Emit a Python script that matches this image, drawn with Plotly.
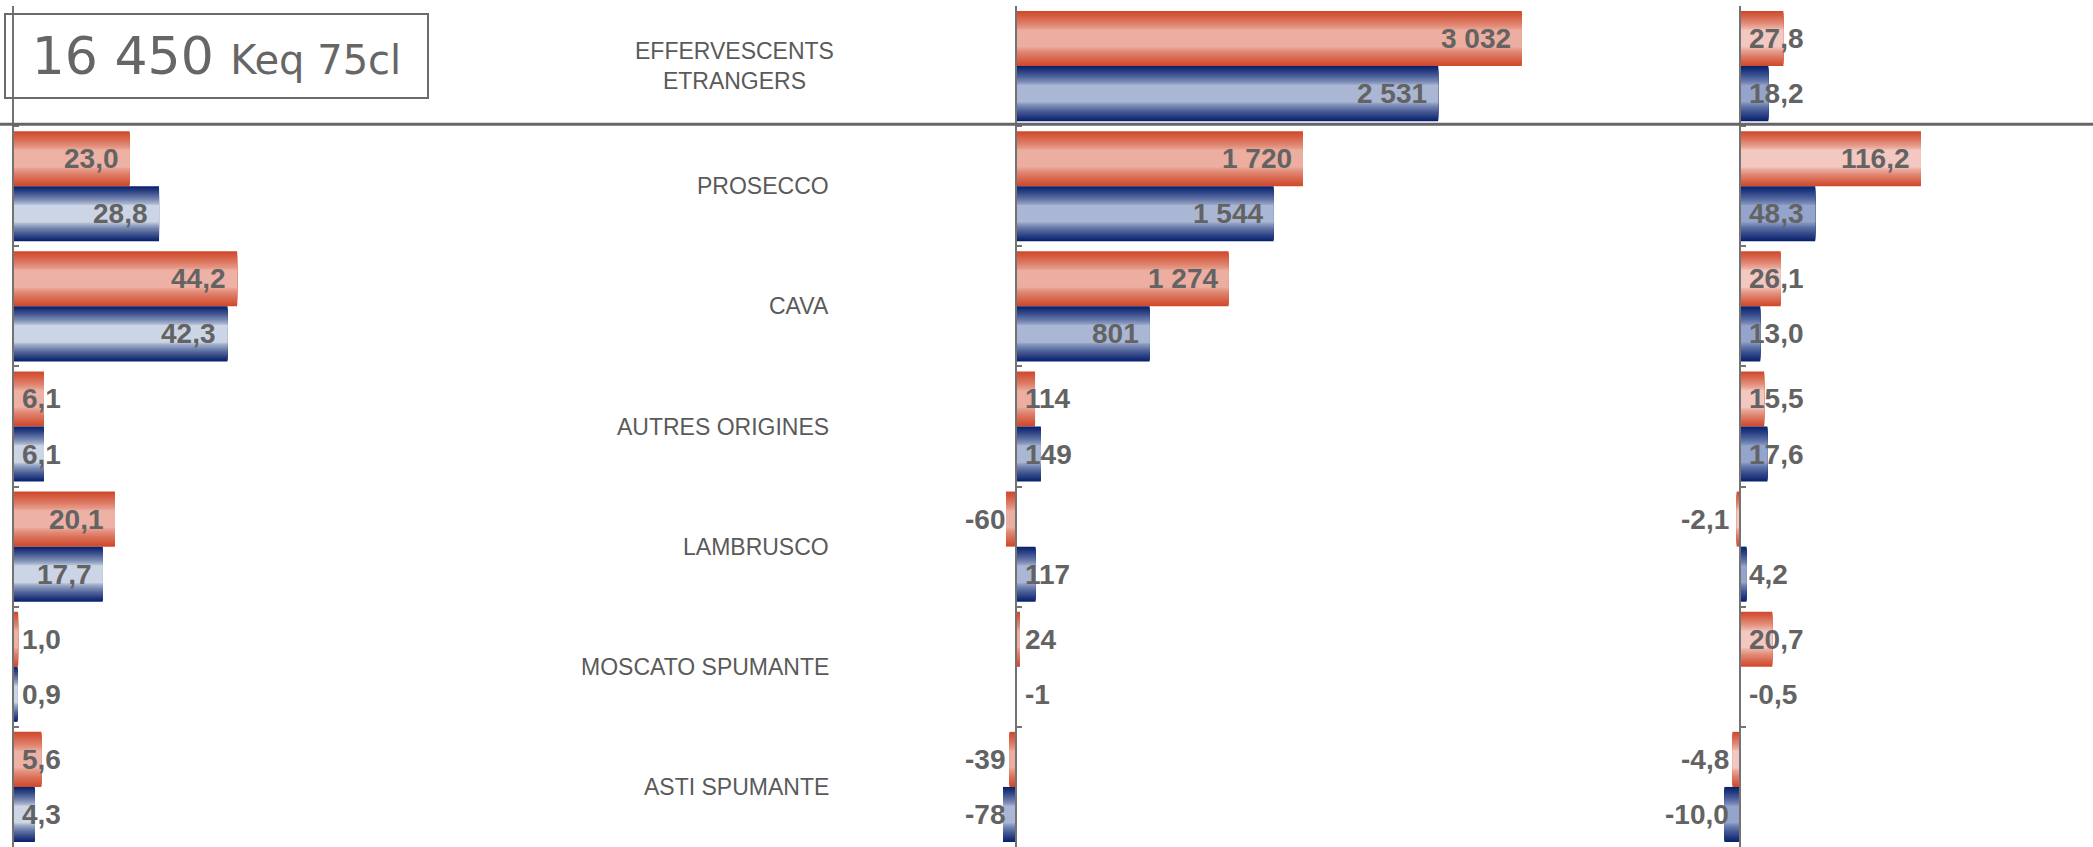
import plotly.graph_objects as go

W, H = 2093, 847
M_TOP = 6

categories = ["EFFERVESCENTS<br>ETRANGERS", "PROSECCO", "CAVA", "AUTRES ORIGINES",
              "LAMBRUSCO", "MOSCATO SPUMANTE", "ASTI SPUMANTE"]

# part de marché (%)
share_cur = [None, 23.0, 44.2, 6.1, 20.1, 1.0, 5.6]
share_prev = [None, 28.8, 42.3, 6.1, 17.7, 0.9, 4.3]
# évolution en volume (Keq 75cl)
vol_cur = [3032, 1720, 1274, 114, -60, 24, -39]
vol_prev = [2531, 1544, 801, 149, 117, -1, -78]
# évolution (%)
pct_cur = [27.8, 116.2, 26.1, 15.5, -2.1, 20.7, -4.8]
pct_prev = [18.2, 48.3, 13.0, 17.6, 4.2, -0.5, -10.0]

total_text = "16 450"
unit_text = "Keq 75cl"

RED_DARK = (208, 74, 44)
BLUE_DARK = (10, 34, 110)

# panel geometry in pixels: domain start/end, zero position, pixels per unit
panels = [
    dict(xa="x", ya="y", cur=share_cur, prev=share_prev, dom=(13, 700), zero=13,
         scale=5.07, dec=1, red_light=(237, 178, 165), blue_light=(203, 213, 229)),
    dict(xa="x2", ya="y2", cur=vol_cur, prev=vol_prev, dom=(860, 1700), zero=1016,
         scale=0.1668, dec=0, red_light=(235, 174, 160), blue_light=(170, 183, 212)),
    dict(xa="x3", ya="y3", cur=pct_cur, prev=pct_prev, dom=(1705, 2093), zero=1740,
         scale=1.557, dec=1, red_light=(243, 200, 192), blue_light=(148, 164, 203)),
]

BAR_W = 0.4585          # thickness of one bar, in category units
N_LAYERS = 18           # layers used for the shaded (dark edge / light core) fill
CORE = 0.32             # fraction of the half-thickness kept in the light colour
LABEL_SIZE = 28
LABEL_COLOR = "#636363"
PAD_IN, PAD_OUT = 10, 8

positions = list(range(len(categories)))


def mix(c1, c2, t):
    return "rgb(%d,%d,%d)" % tuple(round(a + (b - a) * t) for a, b in zip(c1, c2))


def fmt(v, dec):
    s = f"{abs(v):,.{dec}f}".replace(",", " ").replace(".", ",")
    return ("-" if v < 0 else "") + s


def text_width(s, size):
    w = {",": 0.278, " ": 0.278, "-": 0.333}
    return sum(w.get(ch, 0.556) for ch in s) * size


fig = go.Figure()
annotations = []

for p in panels:
    series = [(p["cur"], -BAR_W / 2, RED_DARK, p["red_light"]),
              (p["prev"], BAR_W / 2, BLUE_DARK, p["blue_light"])]
    for vals, center, dark, light in series:
        for k in range(N_LAYERS + 1):
            f = 1 - (1 - CORE) * k / N_LAYERS
            t = ((f - CORE) / (1 - CORE)) ** 0.75
            fig.add_trace(go.Bar(
                x=vals, y=positions, orientation="h",
                width=BAR_W * f, offset=center - BAR_W * f / 2,
                marker=dict(color=mix(light, dark, t), line=dict(width=0)),
                xaxis=p["xa"], yaxis=p["ya"], hoverinfo="skip", showlegend=False,
            ))
        # value labels
        for i, v in enumerate(vals):
            if v is None:
                continue
            txt = fmt(v, p["dec"])
            px_len = abs(v) * p["scale"]
            tw = text_width(txt, LABEL_SIZE)
            if v < 0 and px_len >= 2:
                x, xanchor, xshift = 0, "right", -PAD_OUT - 2
            elif v > 0 and px_len >= tw + PAD_IN + PAD_OUT:
                x, xanchor, xshift = v, "right", -PAD_IN
            else:
                x, xanchor, xshift = 0, "left", PAD_OUT
            annotations.append(dict(
                x=x, y=i + center, xref=p["xa"], yref=p["ya"], text=f"<b>{txt}</b>",
                xanchor=xanchor, yanchor="middle", xshift=xshift, showarrow=False,
                borderpad=0,
                font=dict(family="Liberation Sans, Arial, sans-serif", size=LABEL_SIZE,
                          color=LABEL_COLOR),
            ))

# category names
for i, name in enumerate(categories):
    annotations.append(dict(
        x=(836 if i == 0 else 831) / W, y=i, xref="paper", yref="y", text=name,
        xanchor="right", yanchor="middle", align="center", showarrow=False,
        font=dict(family="Liberation Sans, Arial, sans-serif", size=23, color="#5a5a5a"),
    ))

# total box
plot_h = H - M_TOP
annotations.append(dict(
    x=4 / W, y=1 - (13 - M_TOP) / plot_h, xref="paper", yref="paper",
    xanchor="left", yanchor="top", showarrow=False,
    text=f"{total_text} <span style='font-size:40px'>{unit_text}</span>",
    font=dict(family="DejaVu Sans, sans-serif", size=52, color="#666666"),
    width=421, height=82, align="center", valign="middle",
    bordercolor="#6b6b6b", borderwidth=2, borderpad=0,
))

layout = dict(
    width=W, height=H, margin=dict(l=0, r=0, t=M_TOP, b=0, pad=0),
    paper_bgcolor="white", plot_bgcolor="rgba(0,0,0,0)",
    barmode="overlay", showlegend=False, annotations=annotations,
    shapes=[dict(type="line", xref="paper", x0=0, x1=1, yref="y", y0=0.485, y1=0.485,
                 line=dict(color="#666666", width=3), layer="above")],
)

for n, p in enumerate(panels):
    sfx = "" if n == 0 else str(n + 1)
    d0, d1 = p["dom"]
    layout["xaxis" + sfx] = dict(
        domain=[d0 / W, d1 / W],
        range=[(d0 - p["zero"]) / p["scale"], (d1 - p["zero"]) / p["scale"]],
        anchor="y" + sfx, visible=False, fixedrange=True,
    )
    layout["yaxis" + sfx] = dict(
        domain=[0, 1], range=[len(categories) - 0.5, -0.5],
        anchor="free", position=p["zero"] / W,
        showline=True, linecolor="#737373", linewidth=2,
        ticks="inside", tickvals=[i - 0.5 for i in range(len(categories) + 1)],
        ticklen=5, tickwidth=2, tickcolor="#737373",
        showticklabels=False, showgrid=False, zeroline=False, fixedrange=True,
    )

fig.update_layout(**layout)
fig.write_html("out.html")
